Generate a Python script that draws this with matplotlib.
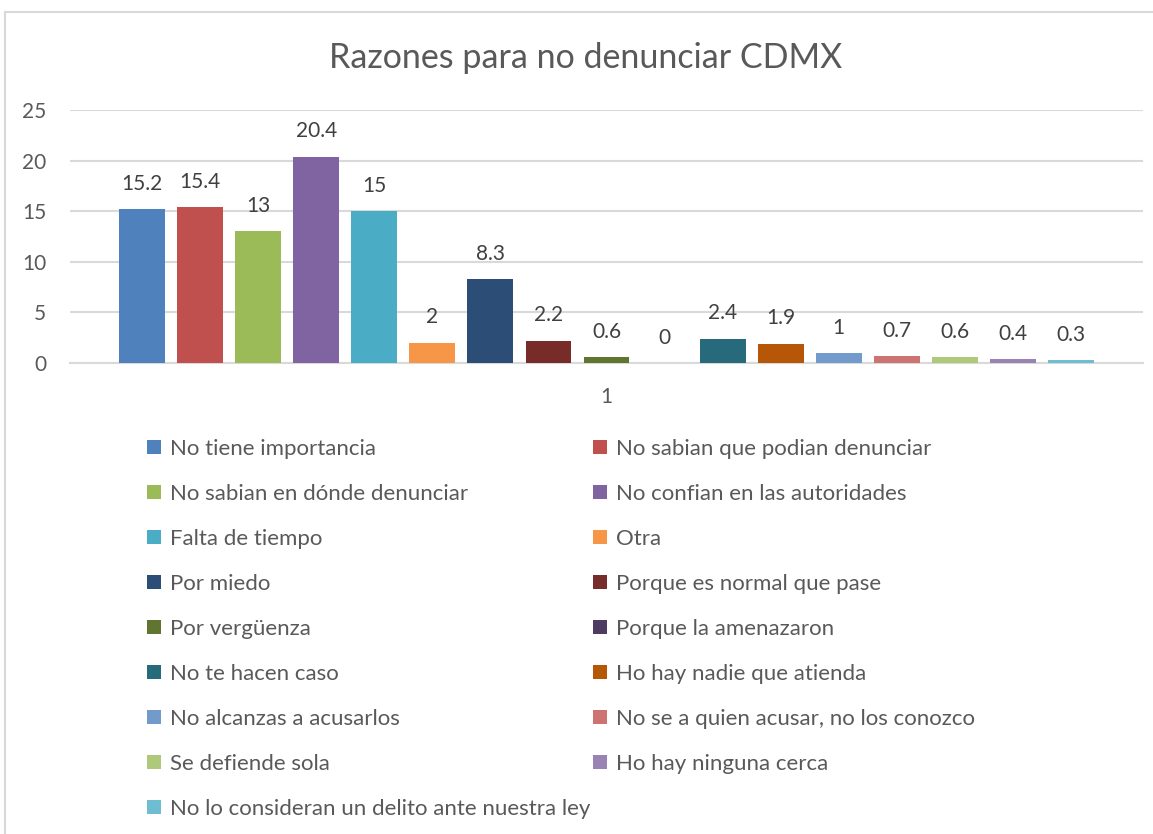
import matplotlib
matplotlib.use("Agg")
import matplotlib.pyplot as plt
from matplotlib.patches import Patch
from matplotlib.lines import Line2D

title = "Razones para no denunciar CDMX"
category = "1"
series_names = [
    "No tiene importancia",
    "No sabian que podian denunciar",
    "No sabian en dónde denunciar",
    "No confian en las autoridades",
    "Falta de tiempo",
    "Otra",
    "Por miedo",
    "Porque es normal que pase",
    "Por vergüenza",
    "Porque la amenazaron",
    "No te hacen caso",
    "Ho hay nadie que atienda",
    "No alcanzas a acusarlos",
    "No se a quien acusar, no los conozco",
    "Se defiende sola",
    "Ho hay ninguna cerca",
    "No lo consideran un delito ante nuestra ley",
]
values = [15.2, 15.4, 13, 20.4, 15, 2, 8.3, 2.2, 0.6, 0, 2.4, 1.9, 1, 0.7, 0.6, 0.4, 0.3]
value_labels = ["15.2", "15.4", "13", "20.4", "15", "2", "8.3", "2.2", "0.6", "0",
                "2.4", "1.9", "1", "0.7", "0.6", "0.4", "0.3"]
colors = ["#4F81BD", "#C0504D", "#9BBB59", "#8064A2", "#4BACC6", "#F79646",
          "#2C4D75", "#772C2A", "#5F7530", "#4D3B62", "#276A7C", "#B65708",
          "#729ACA", "#CD7371", "#AFC97A", "#9983B5", "#6FBDD1"]
yticks = [0, 5, 10, 15, 20, 25]

FONT = ["Lato", "DejaVu Sans"]
plt.rcParams["font.family"] = FONT
TXT = "#595959"

W, H = 1153, 834
fig = plt.figure(figsize=(W / 100, H / 100), dpi=100)

def fx(px):
    return px / W

def fy(py):
    return 1 - py / H

ax = fig.add_axes([fx(70), fy(363), fx(1143) - fx(70), fy(110) - fy(363)])

n = len(values)
xs = list(range(n))
bars = ax.bar(xs, values, width=0.79, color=colors, zorder=3)
for x, v, lab in zip(xs, values, value_labels):
    ax.annotate(lab, (x, v), xytext=(0, 11), textcoords="offset points",
                ha="center", va="bottom", fontsize=15, color="#404040")

ax.set_xlim(-1.24, n - 1 + 1.24)
ax.set_ylim(0, 25)
ax.set_yticks(yticks)
ax.set_yticklabels([str(t) for t in yticks], fontsize=15, color=TXT)
ax.set_xticks([(n - 1) / 2])
ax.set_xticklabels([category], fontsize=15, color=TXT)
ax.tick_params(axis="y", length=0, pad=17)
ax.tick_params(axis="x", length=0, pad=17)
ax.grid(axis="y", color="#D9D9D9", linewidth=1.5, zorder=0)
for s in ["top", "right", "left"]:
    ax.spines[s].set_visible(False)
ax.spines["bottom"].set_color("#D9D9D9")
ax.spines["bottom"].set_linewidth(1.5)

fig.text(fx(586), fy(58), title, ha="center", va="center", fontsize=24.5,
         color=TXT)

# chart border
fig.add_artist(Line2D([fx(5), fx(5)], [fy(12), 0], color="#D9D9D9", lw=1.5))
fig.add_artist(Line2D([fx(5), 1], [fy(12), fy(12)], color="#D9D9D9", lw=1.5))

handles = [Patch(facecolor=c, edgecolor="none") for c in colors]
col1 = list(range(0, n, 2))
col2 = list(range(1, n, 2))
common = dict(frameon=False, fontsize=16, labelcolor=TXT, handlelength=0.62,
              handleheight=0.62, handletextpad=0.4, labelspacing=1.125,
              loc="upper left", borderpad=0, borderaxespad=0)
fig.legend([handles[i] for i in col1], [series_names[i] for i in col1],
           bbox_to_anchor=(fx(147), fy(439)), **common)
fig.legend([handles[i] for i in col2], [series_names[i] for i in col2],
           bbox_to_anchor=(fx(593), fy(439)), **common)

fig.savefig("out.png", dpi=100)
